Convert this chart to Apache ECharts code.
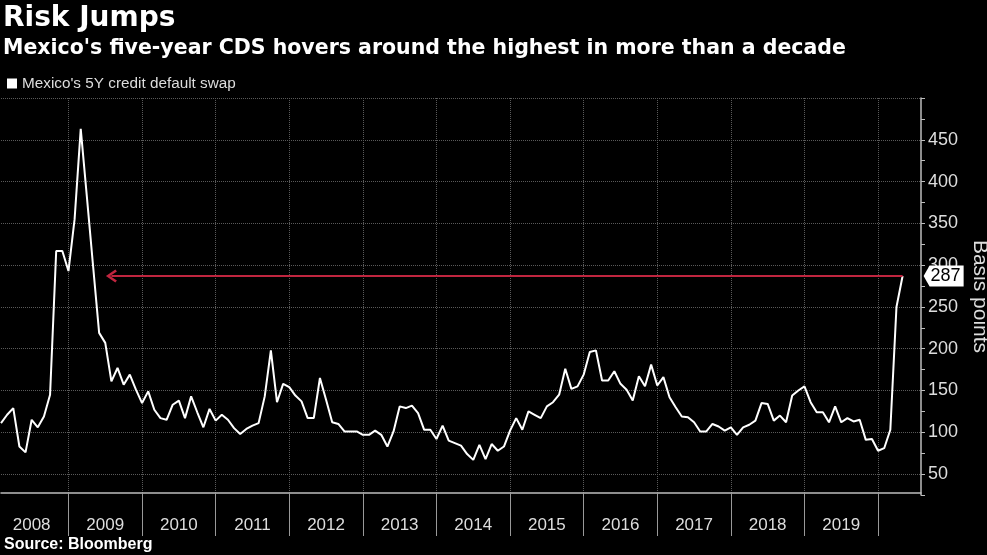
<!DOCTYPE html>
<html>
<head>
<meta charset="utf-8">
<script src="https://cdn.jsdelivr.net/npm/echarts/dist/echarts.min.js"></script>
<style>
html,body{margin:0;padding:0;background:#000;}
#c{width:987px;height:555px;}
</style>
</head>
<body>
<div id="c"></div>
<script>
// ---- data ----
const titleText = 'Risk Jumps';
const subtitleText = "Mexico's five-year CDS hovers around the highest in more than a decade";
const sourceText = 'Source: Bloomberg';
const seriesName = "Mexico's 5Y credit default swap";
const axisName = 'Basis points';

// month-end observations, Jan 2008 .. Apr 2020
const cdsValues = [
  111,121,129,83,76,115,106,119,145,317,317,293,      // 2008
  355,463,382,300,219,207,161,177,157,169,151,135,    // 2009
  149,127,117,115,133,138,117,143,124,106,128,114,    // 2010
  121,115,105,98,104,108,111,143,198,136,158,154,     // 2011
  144,137,117,117,165,139,112,110,101,101,101,97,     // 2012
  97,102,97,83,101,131,129,132,123,103,103,92,        // 2013
  108,90,87,84,74,67,85,68,86,78,83,102,              // 2014
  117,103,125,121,117,131,136,145,176,152,155,169,    // 2015
  196,198,162,162,173,158,151,138,167,155,181,156,    // 2016
  166,142,130,119,118,112,101,101,110,107,102,106,    // 2017
  97,106,109,114,135,134,114,120,112,144,150,155,     // 2018
  136,124,124,112,131,112,117,113,115,91,92,78,       // 2019
  81,103,250,287                                      // 2020
];
const yearLabels = ['2008','2009','2010','2011','2012','2013','2014','2015','2016','2017','2018','2019'];
const yTickLabels = [50,100,150,200,250,300,350,400,450];
const arrowTarget = '2009-07';

// axis categories: Jan 2008 .. Jul 2020 (axis runs a little past the last observation)
const startYear = 2008;
const monthCount = 151;
const months = [];
for (let i = 0; i < monthCount; i++) {
  const y = startYear + Math.floor(i / 12);
  const m = (i % 12) + 1;
  months.push(y + '-' + String(m).padStart(2, '0'));
}

const lastIdx = cdsValues.length - 1;
const lastVal = cdsValues[lastIdx];

const chevron = 'path://M6,0L12,10L10.2,11.6L6,4.4L1.8,11.6L0,10Z';
const tagPath = 'path://M0,10L6,0L40,0L40,20L6,20Z';

const chart = echarts.init(document.getElementById('c'), null, {renderer: 'canvas'});
chart.setOption({
  backgroundColor: '#000',
  animation: false,
  title: [
    {text: titleText, left: 3, top: 5, padding: 0,
     textStyle: {color: '#fff', fontFamily: 'DejaVu Sans', fontWeight: 'bold', fontSize: 28}},
    {text: subtitleText, left: 3, top: 38, padding: 0,
     textStyle: {color: '#fff', fontFamily: 'DejaVu Sans', fontWeight: 'bold', fontSize: 20.5}},
    {text: sourceText, left: 4, top: 537, padding: 0,
     textStyle: {color: '#fff', fontFamily: 'Liberation Sans', fontWeight: 'bold', fontSize: 16}}
  ],
  legend: {
    left: 7, top: 76, padding: 0, icon: 'rect', itemWidth: 10, itemHeight: 10,
    textStyle: {color: '#ddd', fontSize: 15.3, fontFamily: 'Liberation Sans'},
    data: [seriesName]
  },
  grid: {left: 1, right: 66, top: 98, bottom: 60, containLabel: false, outerBoundsMode: 'none'},
  xAxis: {
    type: 'category', data: months, boundaryGap: false, offset: -2,
    axisLine: {lineStyle: {color: '#bdbdbd', width: 1.5}},
    axisTick: {show: true, length: 43, interval: (i, v) => v.endsWith('-12'),
               lineStyle: {color: '#999'}},
    axisLabel: {
      interval: (i, v) => v.endsWith('-06') && yearLabels.includes(v.slice(0, 4)),
      formatter: v => v.slice(0, 4),
      color: '#ddd', fontSize: 17, fontFamily: 'Liberation Sans', margin: 24
    },
    splitLine: {show: true, interval: (i, v) => v.endsWith('-12'),
                lineStyle: {color: '#5a5a5a', type: 'dotted'}}
  },
  yAxis: {
    type: 'value', position: 'right', min: 25, max: 500, interval: 25,
    name: axisName, nameLocation: 'middle', nameRotate: -90, nameGap: 46,
    nameTextStyle: {color: '#ddd', fontSize: 21, fontFamily: 'Liberation Sans'},
    axisLine: {show: true, lineStyle: {color: '#bdbdbd', width: 1.5}},
    axisTick: {show: true, length: 4, lineStyle: {color: '#bdbdbd'}},
    axisLabel: {color: '#ddd', fontSize: 18, fontFamily: 'Liberation Sans', margin: 7,
                formatter: v => yTickLabels.includes(v) ? String(v) : ''},
    splitLine: {show: true, lineStyle: {color: ['rgba(0,0,0,0)', '#5a5a5a'], type: 'dotted'}}
  },
  series: [{
    name: seriesName, type: 'line', data: cdsValues, symbol: 'none',
    lineStyle: {color: '#fff', width: 2}, itemStyle: {color: '#fff'},
    markLine: {
      silent: true, symbol: ['none', chevron], symbolSize: [13, 11],
      lineStyle: {color: '#c0253f', width: 2, type: 'solid'},
      label: {show: false},
      emphasis: {disabled: true},
      data: [[{coord: [months[lastIdx], lastVal]}, {coord: [arrowTarget, lastVal]}]]
    },
    markPoint: {
      silent: true, symbol: tagPath, symbolSize: [40, 21], symbolOffset: [41, 0],
      itemStyle: {color: '#fff'},
      label: {show: true, color: '#000', fontSize: 18, fontFamily: 'Liberation Sans',
              offset: [2, 0], formatter: '{c}'},
      data: [{coord: [months[lastIdx], lastVal], value: lastVal}]
    }
  }]
});
</script>
</body>
</html>
